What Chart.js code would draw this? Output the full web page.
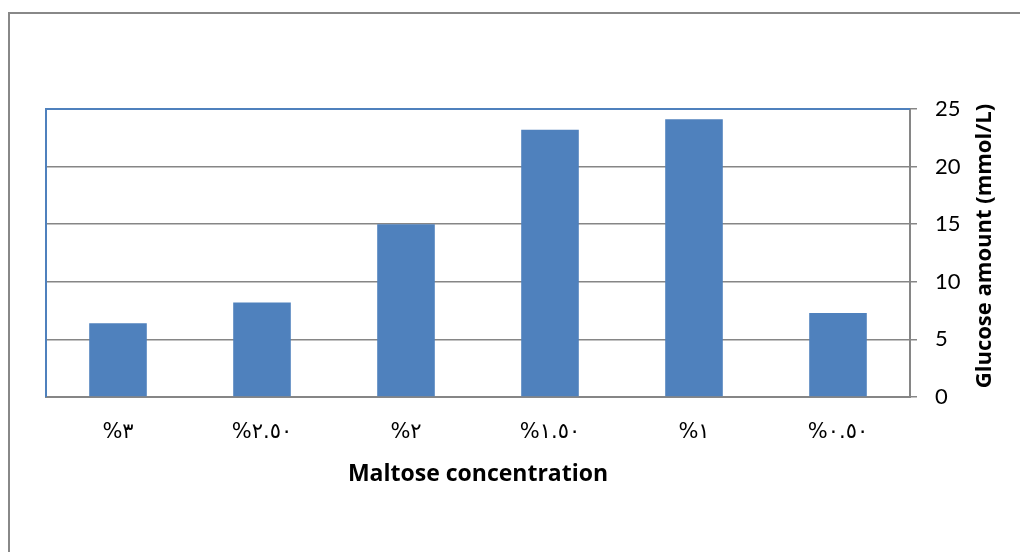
<!DOCTYPE html>
<html lang="en">

<head>
    <meta charset="UTF-8">
    <title>Glucose amount by maltose concentration</title>
    <style>
        body { margin: 0; background: #fff; overflow: hidden; }
        #frame {
            position: absolute;
            left: 8px;
            top: 12px;
            width: 1100px;
            height: 700px;
            border: 2px solid #888;
        }
        #wrap { position: absolute; left: 0; top: 0; width: 1020px; height: 552px; }
    </style>
</head>

<body>
    <div id="frame"></div>
    <div id="wrap">
        <canvas id="myChart" width="1020" height="552"></canvas>
    </div>

    <script src="https://cdn.jsdelivr.net/npm/chart.js@4.4.2/dist/chart.umd.min.js"></script>

    <script>
        // categories (as printed under the bars)
        var concentrations = ['%٣', '%٢.٥٠', '%٢', '%١.٥٠', '%١', '%٠.٥٠'];
        // glucose amount, mmol/L
        var glucose = [6.4, 8.2, 15, 23.2, 24.1, 7.3];
        var yTicks = [0, 5, 10, 15, 20, 25];

        var ctx = document.getElementById('myChart');

        // blue plot-area edges (top + left) and the upward-reading y title
        var plotExtras = {
            id: 'plotExtras',
            afterDatasetsDraw: function (chart) {
                var a = chart.chartArea;
                var c = chart.ctx;
                c.save();
                c.strokeStyle = '#4f81bd';
                c.lineWidth = 2;
                c.beginPath();
                c.moveTo(a.left, a.bottom);
                c.lineTo(a.left, a.top);
                c.lineTo(a.right, a.top);
                c.stroke();
                c.restore();
            },
            afterDraw: function (chart) {
                var c = chart.ctx;
                c.save();
                c.translate(985, 246);
                c.rotate(-Math.PI / 2);
                c.font = 'bold 22px "Open Sans"';
                c.fillStyle = '#000';
                c.textAlign = 'center';
                c.textBaseline = 'middle';
                c.fillText('Glucose amount (mmol/L)', 0, 0);
                c.restore();
            }
        };

        new Chart(ctx, {
            type: 'bar',
            data: {
                labels: concentrations,
                datasets: [{
                    data: glucose,
                    backgroundColor: '#4f81bd',
                    barPercentage: 0.4,
                    categoryPercentage: 1,
                }]
            },
            options: {
                responsive: false,
                animation: false,
                layout: {
                    padding: { left: 46, top: 109, right: 0, bottom: 0 }
                },
                scales: {
                    x: {
                        grid: { display: false, drawTicks: false },
                        border: { color: '#868686', width: 2 },
                        ticks: {
                            padding: 23,
                            color: '#000',
                            font: { family: 'DejaVu Sans', size: 21 },
                        },
                        title: {
                            display: true,
                            text: 'Maltose concentration',
                            color: '#000',
                            font: { family: 'Open Sans', size: 23, weight: 'bold' },
                            padding: { top: 4, bottom: 64 },
                        },
                        afterFit: function (scale) { scale.height = 155; }
                    },
                    y: {
                        position: 'right',
                        min: 0,
                        max: 25,
                        afterBuildTicks: function (scale) {
                            scale.ticks = yTicks.map(function (v) { return { value: v }; });
                        },
                        grid: { color: '#868686', lineWidth: 1.5, tickLength: 7 },
                        border: { color: '#868686', width: 2 },
                        ticks: {
                            padding: 18,
                            color: '#000',
                            font: { family: 'Lato', size: 22 },
                        },
                        afterFit: function (scale) { scale.width = 110; }
                    }
                },
                plugins: {
                    legend: { display: false },
                    tooltip: { enabled: false },
                },
            },
            plugins: [plotExtras]
        });
    </script>
</body>

</html>
